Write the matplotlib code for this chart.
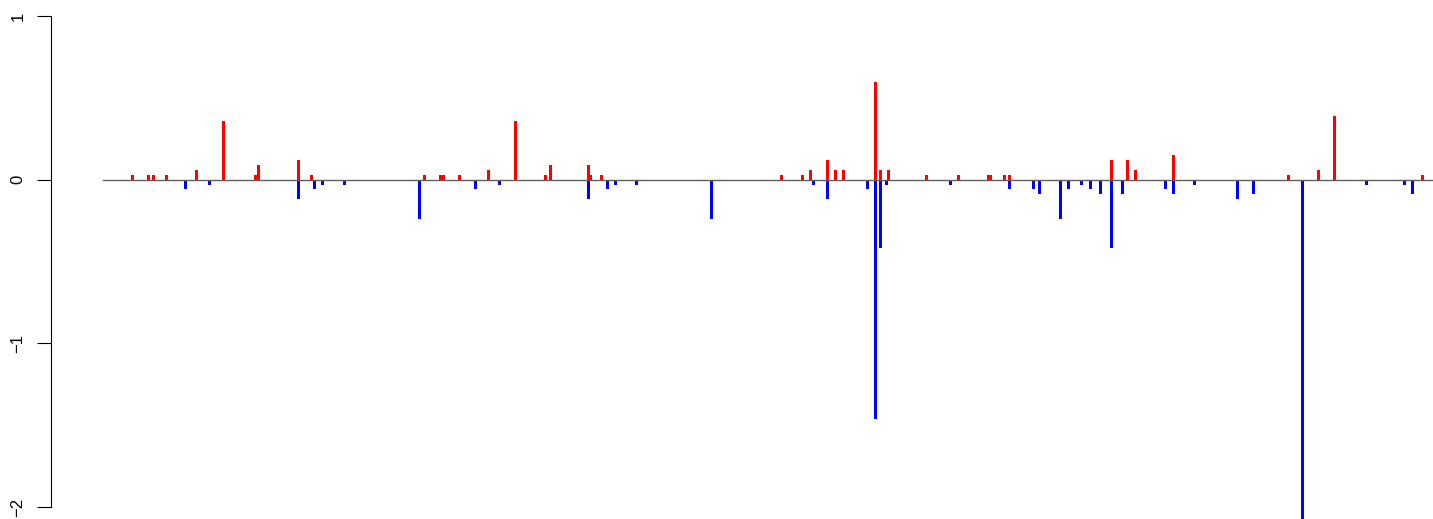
import matplotlib.pyplot as plt

# positions along the sequence (horizontal units) and effect values
up_pos = [132.3, 148.3, 153.3, 166.3, 196.3, 223.3, 255.3, 258.3, 298.3, 311.3,
          424.3, 440.5, 443.5, 459.3, 488.3, 515.3, 545.3, 550.3, 588.3, 591.0,
          601.3, 781.3, 802.3, 810.3, 827.3, 835.3, 843.3, 875.3, 880.3, 888.3,
          926.3, 958.3, 988.3, 990.5, 1004.3, 1009.3, 1111.3, 1127.3, 1135.3, 1173.3,
          1288.3, 1318.3, 1334.3, 1422.3]
up_val = [0.026, 0.026, 0.026, 0.026, 0.057, 0.356, 0.026, 0.088, 0.118, 0.026,
          0.026, 0.026, 0.026, 0.026, 0.057, 0.356, 0.026, 0.088, 0.088, 0.026,
          0.026, 0.026, 0.026, 0.057, 0.118, 0.057, 0.057, 0.595, 0.057, 0.057,
          0.026, 0.026, 0.026, 0.026, 0.026, 0.026, 0.118, 0.118, 0.057, 0.149,
          0.026, 0.057, 0.387, 0.026]

down_pos = [185.3, 209.3, 298.3, 314.3, 322.3, 344.3, 419.3, 475.3, 499.3, 588.3,
            607.3, 615.3, 636.3, 711.3, 813.3, 827.3, 867.3, 875.3, 880.3, 886.3,
            950.3, 1009.3, 1033.3, 1039.3, 1060.3, 1068.3, 1081.3, 1090.3, 1100.3, 1111.3,
            1122.3, 1165.3, 1173.3, 1194.3, 1237.3, 1253.3, 1302.3, 1366.3, 1404.3, 1412.3]
down_val = [-0.059, -0.035, -0.12, -0.059, -0.035, -0.035, -0.24, -0.059, -0.035, -0.12,
            -0.059, -0.035, -0.035, -0.24, -0.035, -0.12, -0.059, -1.464, -0.42, -0.035,
            -0.035, -0.059, -0.059, -0.09, -0.24, -0.059, -0.035, -0.059, -0.09, -0.42,
            -0.09, -0.059, -0.09, -0.035, -0.12, -0.09, -2.1, -0.035, -0.035, -0.09]

y_ticks = [-2, -1, 0, 1]

plt.rcParams['font.family'] = ['Liberation Sans', 'DejaVu Sans']

fig = plt.figure(figsize=(14.33, 5.19), dpi=100)
ax = fig.add_axes([51 / 1433, 0, 1 - 51 / 1433, 1])

ax.bar(up_pos, up_val, width=3, color='#ff0000', linewidth=0, zorder=2)
ax.bar(down_pos, down_val, width=3, color='#0000ff', linewidth=0, zorder=2)
ax.plot([103, 1433], [0, 0], color='#606060', linewidth=1.0, zorder=3)

ax.set_xlim(51, 1433)
ax.set_ylim(-2 - 12 / 163.67, 1 + 16 / 163.67)

for s in ['top', 'right', 'bottom']:
    ax.spines[s].set_visible(False)
ax.spines['left'].set_bounds(-2, 1)
ax.spines['left'].set_linewidth(0.8)
ax.set_xticks([])
ax.set_yticks(y_ticks)
ax.set_yticklabels([str(t).replace('-', '\u2212') for t in y_ticks])
ax.tick_params(axis='y', length=10, width=0.8, pad=8.5, labelsize=12)
for lab in ax.get_yticklabels():
    lab.set_rotation(90)
    lab.set_va('center')

fig.savefig('out.png', dpi=100)
